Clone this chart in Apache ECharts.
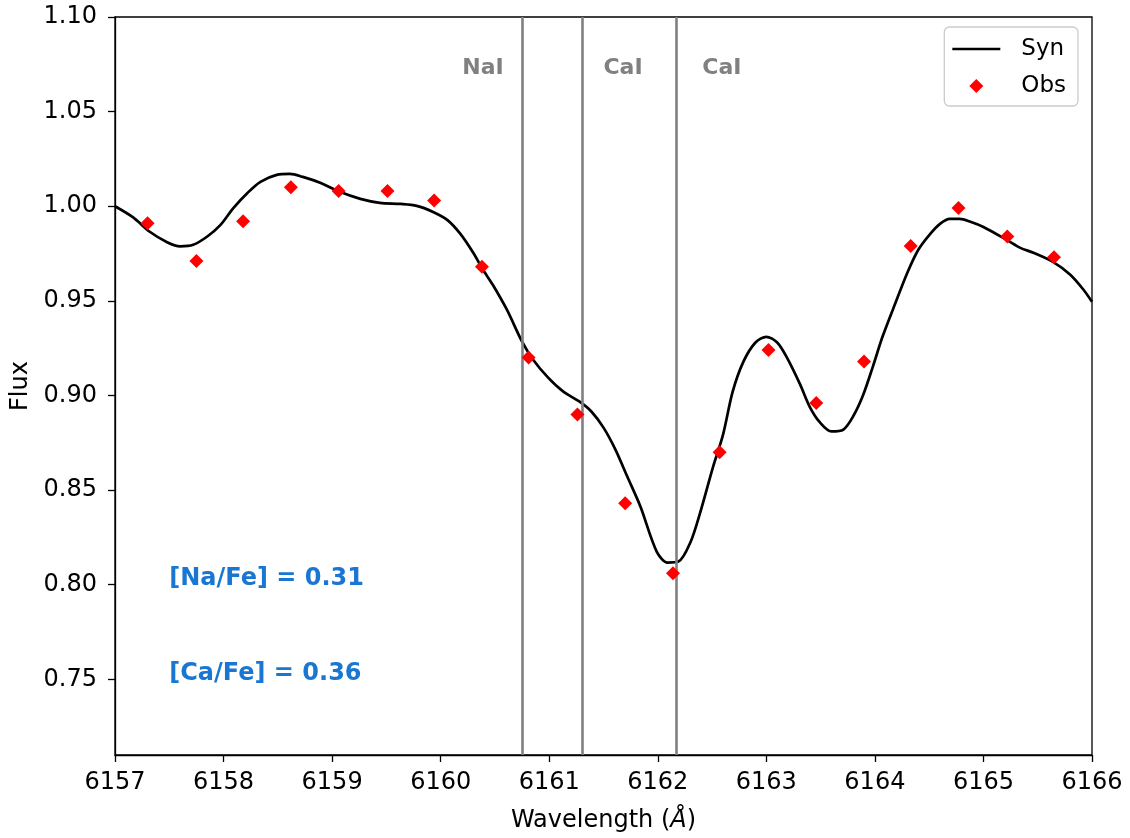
<!DOCTYPE html>
<html>
<head>
<meta charset="utf-8">
<script src="https://cdn.jsdelivr.net/npm/echarts@6/dist/echarts.min.js"></script>
<style>
  html, body { margin: 0; padding: 0; background: #fff; }
  #chart { width: 1130px; height: 838px; }
</style>
</head>
<body>
<div id="chart"></div>
<script>
// Synthetic spectrum (wavelength in Angstrom, normalised flux)
const synWave = [6157.00, 6157.17, 6157.32, 6157.48, 6157.60, 6157.72, 6157.85, 6157.97, 6158.09, 6158.22,
  6158.34, 6158.49, 6158.61, 6158.73, 6158.89, 6159.07, 6159.26, 6159.44, 6159.63, 6159.78,
  6159.93, 6160.06, 6160.18, 6160.30, 6160.39, 6160.48, 6160.61, 6160.75, 6160.85, 6160.99,
  6161.13, 6161.28, 6161.39, 6161.50, 6161.61, 6161.72, 6161.84, 6161.99, 6162.09, 6162.19,
  6162.30, 6162.39, 6162.51, 6162.60, 6162.69, 6162.79, 6162.90, 6163.00, 6163.10, 6163.19,
  6163.31, 6163.40, 6163.49, 6163.60, 6163.71, 6163.80, 6163.89, 6163.98, 6164.07, 6164.19,
  6164.30, 6164.40, 6164.51, 6164.60, 6164.69, 6164.78, 6164.88, 6165.00, 6165.22, 6165.34,
  6165.46, 6165.64, 6165.80, 6165.92, 6166.00];
const synFlux = [1.000, 0.994, 0.9865, 0.981, 0.9788, 0.9796, 0.984, 0.990, 0.999, 1.007,
  1.0129, 1.0166, 1.0171, 1.0155, 1.0124, 1.0076, 1.0039, 1.0018, 1.0012, 1.0002,
  0.997, 0.9928, 0.9855, 0.9754, 0.9664, 0.9585, 0.9453, 0.9284, 0.919, 0.9094,
  0.902, 0.8967, 0.8914, 0.883, 0.8714, 0.857, 0.8413, 0.8175, 0.8117, 0.8122,
  0.8223, 0.838, 0.8624, 0.879, 0.902, 0.918, 0.928, 0.931, 0.928, 0.920,
  0.906, 0.894, 0.886, 0.881, 0.882, 0.889, 0.900, 0.915, 0.931, 0.949,
  0.965, 0.977, 0.9854, 0.9907, 0.9933, 0.9933, 0.9918, 0.989, 0.982, 0.978,
  0.9754, 0.9706, 0.9638, 0.956, 0.9495];

// Observed spectrum
const obsWave = [6157.30, 6157.75, 6158.18, 6158.62, 6159.06, 6159.51, 6159.94, 6160.38, 6160.81, 6161.26,
  6161.70, 6162.14, 6162.57, 6163.02, 6163.46, 6163.90, 6164.33, 6164.77, 6165.22, 6165.65];
const obsFlux = [0.991, 0.971, 0.992, 1.010, 1.008, 1.008, 1.003, 0.968, 0.920, 0.890,
  0.843, 0.806, 0.870, 0.924, 0.896, 0.918, 0.979, 0.999, 0.984, 0.973];

// Line identifications
const lineWave = [6160.75, 6161.30, 6162.17];
const lineName = ['NaI', 'CaI', 'CaI'];
const lineLabelWave = [6160.39, 6161.68, 6162.59];
const lineLabelFlux = 1.073;

// Abundance annotations
const abundText = ['[Na/Fe] = 0.31', '[Ca/Fe] = 0.36'];
const abundWave = [6157.5, 6157.5];
const abundFlux = [0.80, 0.75];

// Axis ticks
const xTicks = [6157, 6158, 6159, 6160, 6161, 6162, 6163, 6164, 6165, 6166];
const yTicks = [0.75, 0.80, 0.85, 0.90, 0.95, 1.00, 1.05, 1.10];

const FONT = 'DejaVu Sans';

const chart = echarts.init(document.getElementById('chart'), null, { renderer: 'canvas' });

const option = {
  animation: false,
  backgroundColor: '#ffffff',
  textStyle: { fontFamily: FONT },
  grid: {
    left: 115, right: 38, top: 17, bottom: 82,
    show: true, borderColor: '#000', borderWidth: 1.3, backgroundColor: 'transparent'
  },
  legend: {
    right: 52, top: 27,
    orient: 'vertical',
    data: [
      { name: 'Syn', icon: 'path://M0,0 H48 V2.6 H0 Z', itemStyle: { color: '#000' } },
      { name: 'Obs', icon: 'path://M7,0 L14,7 L7,14 L0,7 Z', itemStyle: { color: '#ff0000' } }
    ],
    symbolKeepAspect: true,
    itemWidth: 48, itemHeight: 14, itemGap: 9,
    backgroundColor: '#fff',
    borderColor: '#cccccc', borderWidth: 1.3, borderRadius: 5,
    padding: [8, 12, 6, 8],
    textStyle: { fontFamily: FONT, fontSize: 23, color: '#000', padding: [0, 0, 0, 16], lineHeight: 28 }
  },
  xAxis: {
    type: 'value', min: 6157, max: 6166, interval: 1,
    name: 'Wavelength ({i|Å})',
    nameLocation: 'middle', nameGap: 54,
    nameTextStyle: { fontFamily: FONT, fontSize: 24, color: '#000',
      rich: { i: { fontFamily: FONT, fontSize: 24, fontStyle: 'italic', color: '#000' } } },
    axisLine: { show: true, lineStyle: { color: '#000', width: 1.3 } },
    axisTick: { show: true, inside: false, length: 7, lineStyle: { color: '#000', width: 1.3 }, customValues: xTicks },
    axisLabel: { show: true, margin: 16, fontFamily: FONT, fontSize: 24, color: '#000', customValues: xTicks,
      formatter: v => String(Math.round(v)) },
    splitLine: { show: false }
  },
  yAxis: {
    type: 'value', min: 0.71, max: 1.10,
    name: 'Flux',
    nameLocation: 'middle', nameGap: 82,
    nameTextStyle: { fontFamily: FONT, fontSize: 24, color: '#000' },
    axisLine: { show: true, lineStyle: { color: '#000', width: 1.3 } },
    axisTick: { show: true, inside: false, length: 7, lineStyle: { color: '#000', width: 1.3 }, customValues: yTicks },
    axisLabel: { show: true, margin: 18, fontFamily: FONT, fontSize: 24, color: '#000', customValues: yTicks,
      formatter: v => v.toFixed(2) },
    splitLine: { show: false }
  },
  series: [
    {
      // vertical markers at the line centres
      name: 'lines',
      type: 'scatter',
      data: [],
      z: 1,
      markLine: {
        silent: true,
        symbol: ['none', 'none'],
        label: { show: false },
        lineStyle: { color: '#808080', width: 2.6, type: 'solid', opacity: 1 },
        data: lineWave.map(w => ({ xAxis: w }))
      }
    },
    {
      name: 'lineLabels',
      type: 'scatter',
      z: 3,
      symbolSize: 0,
      silent: true,
      itemStyle: { opacity: 1 },
      data: lineWave.map((w, i) => ({ value: [lineLabelWave[i], lineLabelFlux], name: lineName[i] })),
      label: {
        show: true, position: 'inside', opacity: 1,
        formatter: p => p.name,
        fontFamily: FONT, fontWeight: 'bold', fontSize: 22, color: '#808080'
      }
    },
    {
      name: 'Syn',
      type: 'line',
      z: 4,
      data: synWave.map((w, i) => [w, synFlux[i]]),
      symbol: 'none',
      showSymbol: false,
      smooth: 0.3,
      lineStyle: { color: '#000', width: 2.7 },
      itemStyle: { color: '#000' }
    },
    {
      name: 'Obs',
      type: 'scatter',
      z: 5,
      data: obsWave.map((w, i) => [w, obsFlux[i]]),
      symbol: 'diamond',
      symbolSize: 14,
      itemStyle: { color: '#ff0000', opacity: 1 }
    },
    {
      name: 'abund',
      type: 'scatter',
      z: 6,
      symbolSize: 0,
      silent: true,
      itemStyle: { opacity: 1 },
      data: abundText.map((t, i) => ({ value: [abundWave[i], abundFlux[i]], name: t })),
      label: {
        show: true, position: [0, 0], align: 'left', verticalAlign: 'middle', opacity: 1,
        offset: [0, -6],
        formatter: p => p.name,
        fontFamily: FONT, fontWeight: 'bold', fontSize: 24, color: '#1976d2'
      }
    }
  ]
};

chart.setOption(option);
</script>
</body>
</html>
